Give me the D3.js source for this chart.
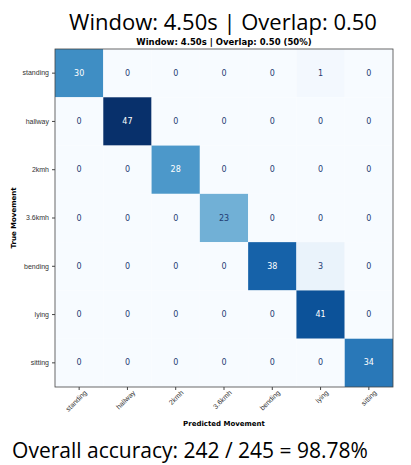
<!DOCTYPE html>
<html><head><meta charset="utf-8">
<script src="https://cdn.jsdelivr.net/npm/d3@7"></script>
<style>body{margin:0;background:#fff}</style>
</head><body><div id="chart"></div>
<script>
// Datos
const labels = ["standing", "hallway", "2kmh", "3.6kmh", "bending", "lying", "sitting"];
const matrix = [
  [30, 0, 0, 0, 0, 1, 0],
  [0, 47, 0, 0, 0, 0, 0],
  [0, 0, 28, 0, 0, 0, 0],
  [0, 0, 0, 23, 0, 0, 0],
  [0, 0, 0, 0, 38, 3, 0],
  [0, 0, 0, 0, 0, 41, 0],
  [0, 0, 0, 0, 0, 0, 34]
];
const title = "Window: 4.50s | Overlap: 0.50";
const subtitle = "Window: 4.50s | Overlap: 0.50 (50%)";
const footer = "Overall accuracy: 242 / 245 = 98.78%";

const W = 411, H = 465;
const mLeft = 55, mTop = 49, size = 338;

const svg = d3.select("#chart").append("svg")
  .attr("width", W).attr("height", H)
  .style("font-family", "DejaVu Sans, sans-serif");

const x = d3.scaleBand().domain(labels).range([mLeft, mLeft + size]);
const y = d3.scaleBand().domain(labels).range([mTop, mTop + size]);
const maxV = d3.max(matrix.flat());
const color = d3.scaleSequential(d3.interpolateBlues).domain([0, maxV]);

const cells = [];
matrix.forEach((row, i) => row.forEach((v, j) => cells.push({r: labels[i], c: labels[j], v})));

svg.append("g").selectAll("rect").data(cells).join("rect")
  .attr("x", d => x(d.c)).attr("y", d => y(d.r))
  .attr("width", x.bandwidth()).attr("height", y.bandwidth())
  .attr("fill", d => color(d.v));

svg.append("g").selectAll("text").data(cells).join("text")
  .attr("x", d => x(d.c) + x.bandwidth() / 2)
  .attr("y", d => y(d.r) + y.bandwidth() / 2)
  .attr("text-anchor", "middle").attr("dominant-baseline", "central")
  .attr("font-size", 8)
  .attr("fill", d => d.v > maxV / 2 ? "#fff" : "#1f3b73")
  .text(d => d.v);

svg.append("rect").attr("x", mLeft).attr("y", mTop).attr("width", size).attr("height", size)
  .attr("fill", "none").attr("stroke", "#444").attr("stroke-width", 0.8);

// Ejes
const ax = svg.append("g").attr("transform", `translate(0,${mTop + size})`)
  .call(d3.axisBottom(x).tickSize(3));
ax.selectAll("text").attr("font-size", 7).attr("fill", "#333")
  .attr("text-anchor", "end").attr("dx", "0.2em").attr("dy", "0.6em")
  .attr("transform", "rotate(-45)");
const ay = svg.append("g").attr("transform", `translate(${mLeft},0)`)
  .call(d3.axisLeft(y).tickSize(3));
ay.selectAll("text").attr("font-size", 7).attr("fill", "#333");
svg.selectAll(".domain").remove();
svg.selectAll(".tick line").attr("stroke", "#444");

// Textos
svg.append("text").attr("x", 223).attr("y", 30).attr("text-anchor", "middle")
  .attr("font-family", "Open Sans, sans-serif").attr("font-size", 22).text(title);
svg.append("text").attr("x", 224).attr("y", 45).attr("text-anchor", "middle")
  .attr("font-size", 8.5).attr("font-weight", "bold").text(subtitle);
svg.append("text").attr("x", 224).attr("y", 426).attr("text-anchor", "middle")
  .attr("font-size", 7).attr("font-weight", "bold").text("Predicted Movement");
svg.append("text").attr("transform", `translate(16,${mTop + size / 2}) rotate(-90)`)
  .attr("text-anchor", "middle").attr("font-size", 7).attr("font-weight", "bold").text("True Movement");
svg.append("text").attr("x", 190).attr("y", 458).attr("text-anchor", "middle")
  .attr("font-family", "Open Sans, sans-serif").attr("font-size", 21).text(footer);
</script></body></html>
